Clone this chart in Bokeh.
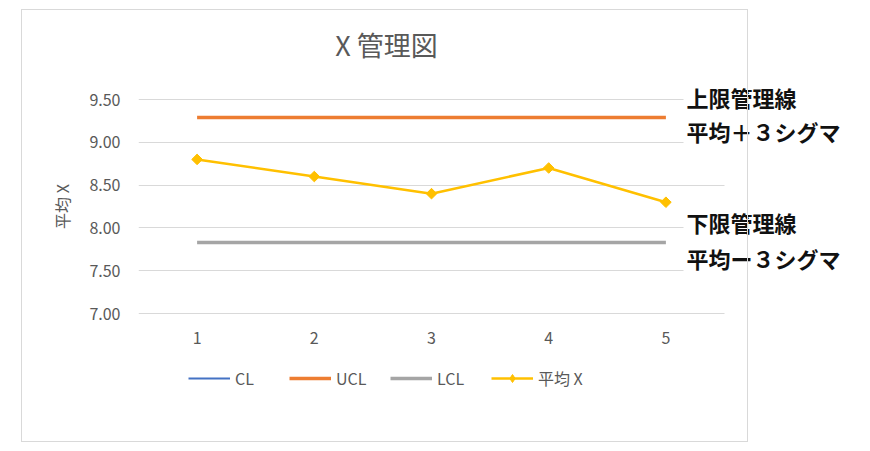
import math
from bokeh.plotting import figure
from bokeh.models import (ColumnDataSource, FixedTicker, NumeralTickFormatter,
                          Legend, LegendItem, Label, BoxAnnotation, InlineStyleSheet)
from bokeh.embed import file_html
from bokeh.resources import INLINE

# ---- data ----
samples = [1, 2, 3, 4, 5]
mean_x = [8.80, 8.60, 8.40, 8.70, 8.30]
ucl = [9.29, 9.29, 9.29, 9.29, 9.29]
lcl = [7.83, 7.83, 7.83, 7.83, 7.83]
cl = [None, None, None, None, None]   # CL is not plotted in the reference (legend only)
y_ticks = [7.0, 7.5, 8.0, 8.5, 9.0, 9.5]
x_ticks = [1, 2, 3, 4, 5]
title_text = "X 管理図"
y_label = "平均 X"
series_names = ["CL", "UCL", "LCL", "平均 X"]
notes = ["上限管理線", "平均＋３シグマ", "下限管理線", "平均ー３シグマ"]

FONT = "Noto Sans CJK JP"
GREY = "#595959"
YELLOW = "#FFC000"

# ---- layout geometry (pixels) ----
W, H = 870, 451
FL = 138            # left edge of plot area
FB = 412            # bottom of the (extended) frame
Y_TOP_PX, Y_BOT_PX = 99, 313       # where 9.5 and 7.0 sit
PX_PER_CAT = 117.2
px_per_unit = (Y_BOT_PX - Y_TOP_PX) / (9.5 - 7.0)
y_lo = 7.0 - (FB - Y_BOT_PX) / px_per_unit
y_hi = 9.5 + Y_TOP_PX / px_per_unit
x_end = 0.5 + (W - FL) / PX_PER_CAT

p = figure(width=W, height=H, output_backend="svg", toolbar_location=None,
           x_range=(0.5, x_end), y_range=(y_lo, y_hi),
           min_border_left=FL, min_border_right=0,
           min_border_top=0, min_border_bottom=H - FB)
p.outline_line_color = None
p.background_fill_color = "white"
p.border_fill_color = "white"

p.xgrid.visible = False
p.ygrid.ticker = FixedTicker(ticks=y_ticks)
p.ygrid.grid_line_color = "#d9d9d9"
p.ygrid.grid_line_width = 1

ya = p.yaxis[0]
ya.ticker = FixedTicker(ticks=y_ticks)
ya.formatter = NumeralTickFormatter(format="0.00")
ya.axis_line_color = None
ya.major_tick_line_color = None
ya.minor_tick_line_color = None
ya.major_tick_out = 0
ya.major_tick_in = 0
ya.minor_tick_out = 0
ya.major_label_text_font = FONT
ya.major_label_text_font_size = "16px"
ya.major_label_text_color = GREY
ya.major_label_standoff = 18
ya.axis_label = y_label
ya.axis_label_text_font = FONT
ya.axis_label_text_font_style = "normal"
ya.axis_label_text_font_size = "16px"
ya.axis_label_text_color = GREY
ya.axis_label_standoff = 12

xa = p.xaxis[0]
xa.ticker = FixedTicker(ticks=x_ticks)
xa.axis_line_color = None
xa.major_tick_line_color = None
xa.minor_tick_line_color = None
xa.major_tick_out = 0
xa.major_tick_in = 0
xa.minor_tick_out = 0
xa.major_label_text_font = FONT
xa.major_label_text_font_size = "16px"
xa.major_label_text_color = GREY
xa.major_label_standoff = -81     # labels sit just under the 7.00 line

src = ColumnDataSource(dict(x=samples, mean=mean_x, ucl=ucl, lcl=lcl,
                            cl=[float("nan") if v is None else v for v in cl]))
r_cl = p.line("x", "cl", source=src, line_color="#4472C4", line_width=2)
r_ucl = p.line("x", "ucl", source=src, line_color="#ED7D31", line_width=3.5)
r_lcl = p.line("x", "lcl", source=src, line_color="#A5A5A5", line_width=3.5)
r_mean = p.line("x", "mean", source=src, line_color=YELLOW, line_width=2.5)
r_mk = p.scatter("x", "mean", source=src, marker="square", size=7.5,
                 angle=math.pi / 4, fill_color=YELLOW, line_color=YELLOW)
# legend swatch for the marker (legend glyphs ignore the rotation above)
r_mk_legend = p.scatter("x", "cl", source=src, marker="diamond", size=12,
                        fill_color=YELLOW, line_color=YELLOW)

# hide the grid to the right of the plot area (x > 5.5)
p.add_layout(BoxAnnotation(left=5.5, fill_color="white", fill_alpha=1,
                           line_color=None))

# white covers behind the note boxes
for top, bottom in [(332, 260), (207, 137)]:
    p.add_layout(BoxAnnotation(left=545, right=600, top=top, bottom=bottom,
                               left_units="screen", right_units="screen",
                               top_units="screen", bottom_units="screen",
                               fill_color="white", fill_alpha=1, line_color=None))

for txt, yy in zip(notes, [316, 282, 191, 155]):
    p.add_layout(Label(x=548, y=yy, x_units="screen", y_units="screen",
                       text=txt, text_align="left", text_baseline="middle",
                       text_font=FONT, text_font_size="22px",
                       text_font_style="bold", text_color="#111111"))

p.add_layout(Label(x=248, y=368, x_units="screen", y_units="screen",
                   text=title_text, text_align="center", text_baseline="middle",
                   text_font=FONT, text_font_size="27px", text_color=GREY))

legend = Legend(items=[
    LegendItem(label=series_names[0], renderers=[r_cl]),
    LegendItem(label=series_names[1], renderers=[r_ucl]),
    LegendItem(label=series_names[2], renderers=[r_lcl]),
    LegendItem(label=series_names[3], renderers=[r_mean, r_mk_legend]),
], orientation="horizontal", location=(50, 22),
   glyph_width=42, glyph_height=20, label_width=50, label_standoff=5,
   spacing=4, padding=0, margin=0, border_line_color=None,
   background_fill_alpha=0, label_text_font=FONT,
   label_text_font_size="16px", label_text_color=GREY)
p.add_layout(legend, "center")

# chart-area border (Excel chart box)
p.stylesheets = [InlineStyleSheet(css="""
:host { position: relative; }
:host::after { content: ''; position: absolute; left: 21px; top: 9px;
  width: 727px; height: 433px; border: 1.5px solid #d9d9d9;
  box-sizing: border-box; pointer-events: none; z-index: 10; }
""")]

open("out.html", "w").write(file_html(p, INLINE))
